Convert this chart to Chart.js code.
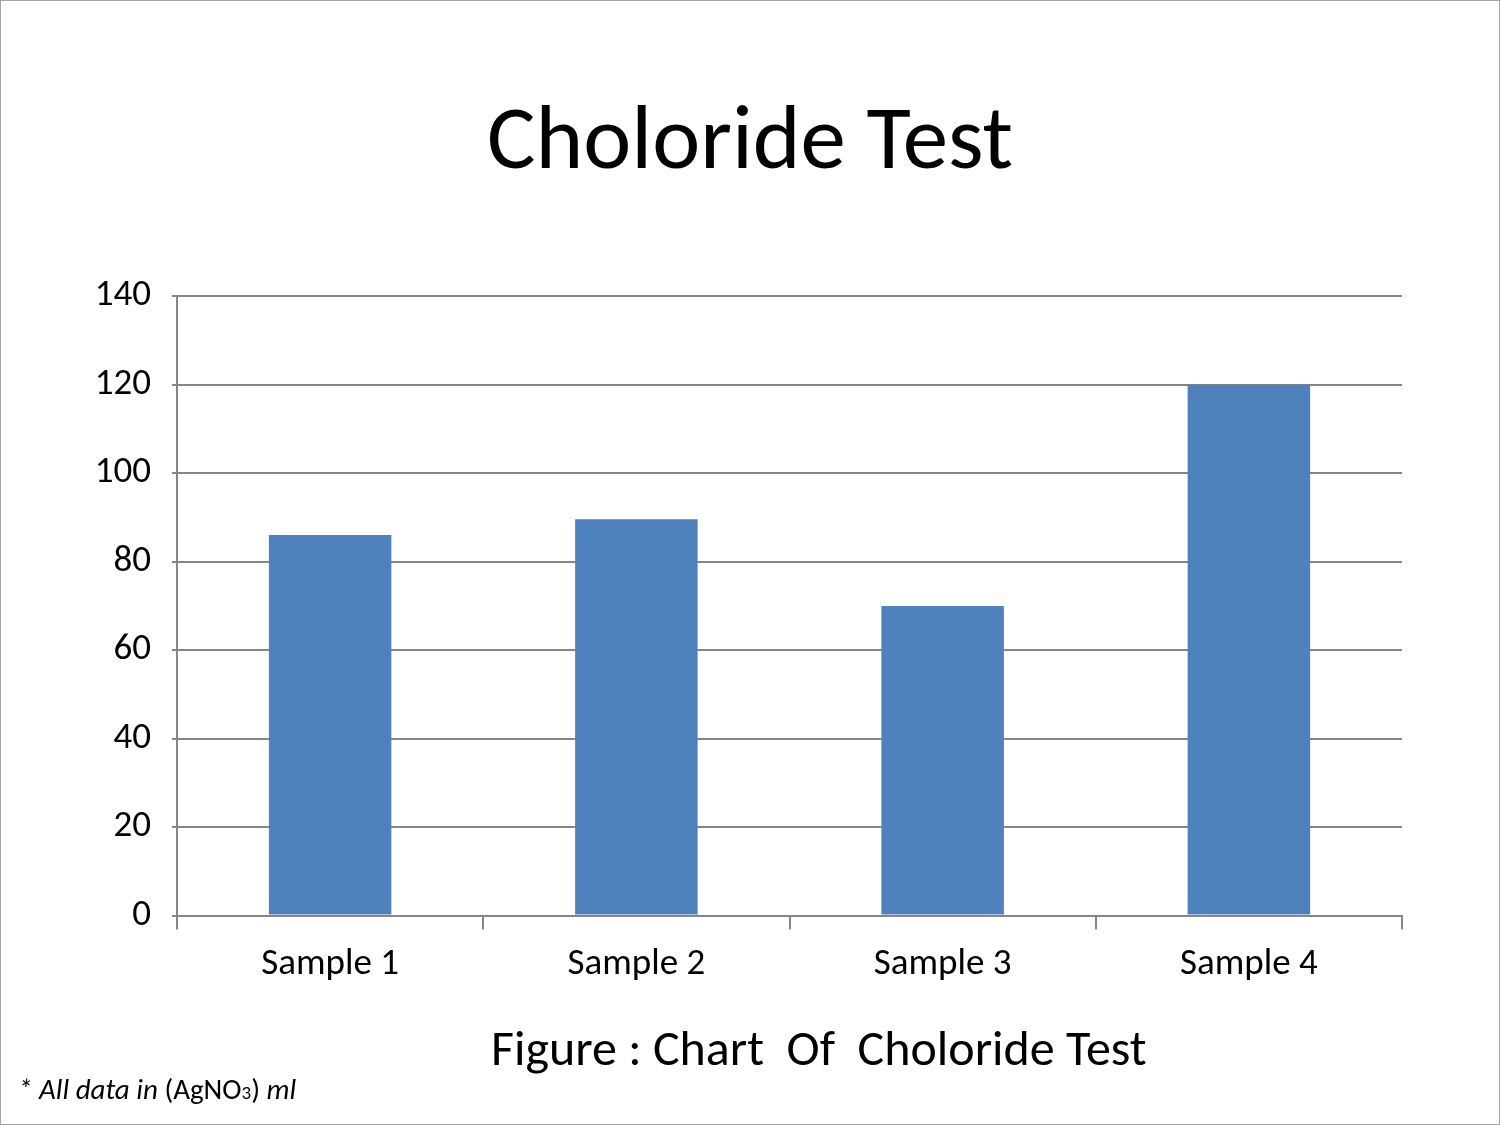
<!DOCTYPE html>
<html>
<head>
<meta charset="utf-8">
<script src="https://cdn.jsdelivr.net/npm/chart.js@4"></script>
<style>
  body { margin: 0; background: #fff; }
  #wrap { position: relative; width: 1500px; height: 1125px; overflow: hidden; }
  #frame { position: absolute; left: 0; top: 0; width: 1500px; height: 1125px; box-sizing: border-box; border: 1px solid #a6a6a6; pointer-events: none; }
  .txt { position: absolute; font-family: Carlito, Lato, sans-serif; color: #000; white-space: pre; }
  #caption { left: 491px; top: 1017px; font-size: 50px; }
  #note { left: 18px; top: 1071px; font-size: 29px; }
  #note i { font-style: italic; }
</style>
</head>
<body>
<div id="wrap">
  <canvas id="chloride" width="1500" height="1125"></canvas>
  <div id="caption" class="txt">Figure : Chart  Of  Choloride Test</div>
  <div id="note" class="txt"><i>* All data in </i>(AgNO<span style="font-size:19px">3</span>) <i>ml</i></div>
  <div id="frame"></div>
</div>
<script>
// Data
const samples = ['Sample 1', 'Sample 2', 'Sample 3', 'Sample 4'];
const chlorideValues = [86, 89.6, 70, 120];
const yTicks = [0, 20, 40, 60, 80, 100, 120, 140];

const gridGray = '#868686';
const fontFamily = 'Carlito, Lato, sans-serif';

const chlorideChart = new Chart(document.getElementById('chloride'), {
  type: 'bar',
  data: {
    labels: samples,
    datasets: [{
      label: 'Chloride',
      data: chlorideValues,
      backgroundColor: '#4f81bd',
      borderWidth: 0,
      barPercentage: 0.4,
      categoryPercentage: 1
    }]
  },
  options: {
    responsive: false,
    animation: false,
    // same padding both sides so the title sits in the middle of the page
    layout: {
      padding: { left: 98, right: 98, top: 0, bottom: 125 }
    },
    plugins: {
      legend: { display: false },
      tooltip: { enabled: false },
      title: {
        display: true,
        text: 'Choloride Test',
        color: '#000',
        font: { family: fontFamily, size: 91, weight: 'normal' },
        padding: { top: 91, bottom: 96 }
      }
    },
    scales: {
      x: {
        grid: {
          offset: true,
          drawOnChartArea: false,
          tickLength: 14,
          color: gridGray,
          lineWidth: 2
        },
        border: { display: true, color: gridGray, width: 2 },
        ticks: {
          color: '#000',
          padding: 13,
          font: { family: fontFamily, size: 37 }
        }
      },
      y: {
        min: 0,
        max: 140,
        afterBuildTicks: function (axis) {
          axis.ticks = yTicks.map(v => ({ value: v }));
        },
        // labels hang into the left padding
        afterFit: function (axis) {
          axis.width = 79;
        },
        grid: {
          tickLength: 5,
          color: gridGray,
          lineWidth: 2
        },
        border: { display: true, color: gridGray, width: 2 },
        ticks: {
          color: '#000',
          padding: 21,
          font: { family: fontFamily, size: 37 }
        }
      }
    }
  }
});
</script>
</body>
</html>
